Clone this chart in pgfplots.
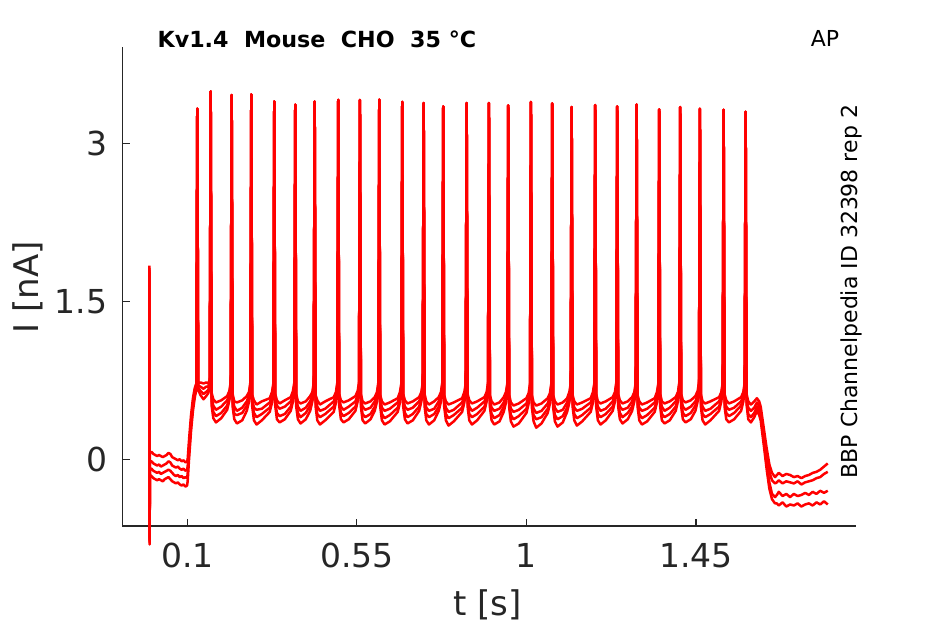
\documentclass[border=0pt]{standalone}
\usepackage{fontspec}
\setmainfont{DejaVu Sans}
\usepackage{pgfplots}
\usepackage{pgfplotstable}
\pgfplotsset{compat=1.18}
\definecolor{axgray}{HTML}{262626}

\pgfplotstableread{
t a b c d
-0.0006 1.84 1.82 1.80 1.78
0.0000 -0.81 -0.79 -0.77 -0.75
0.0008 0.06 -0.02 -0.09 -0.15
0.005 0.07 -0.02 -0.09 -0.16
0.010 0.05 -0.04 -0.11 -0.18
0.015 0.04 -0.05 -0.12 -0.19
0.020 0.03 -0.06 -0.13 -0.20
0.025 0.04 -0.05 -0.12 -0.19
0.030 0.03 -0.07 -0.14 -0.20
0.035 0.02 -0.06 -0.13 -0.21
0.040 0.03 -0.05 -0.12 -0.19
0.045 0.04 -0.04 -0.11 -0.18
0.050 0.06 -0.02 -0.10 -0.17
0.055 0.05 -0.03 -0.11 -0.19
0.060 0.02 -0.06 -0.13 -0.21
0.065 0.01 -0.07 -0.15 -0.22
0.070 0.00 -0.08 -0.16 -0.23
0.075 -0.01 -0.07 -0.15 -0.22
0.080 0.00 -0.09 -0.17 -0.24
0.085 -0.02 -0.10 -0.16 -0.25
0.090 -0.01 -0.09 -0.18 -0.24
0.095 -0.03 -0.11 -0.17 -0.26
0.0995 -0.02 -0.10 -0.18 -0.25
0.101 0.00 -0.07 -0.14 -0.21
0.105 0.20 0.14 0.08 0.02
0.110 0.42 0.37 0.32 0.27
0.115 0.58 0.54 0.50 0.46
0.120 0.68 0.65 0.62 0.59
0.124 0.72 0.70 0.68 0.66
0.1265 3.333 3.333 3.333 3.333
0.1290 0.72 0.70 0.68 0.66
0.1350 0.73 0.69 0.65 0.61
0.1430 0.72 0.67 0.62 0.57
0.1500 0.73 0.69 0.64 0.60
0.1560 0.72 0.69 0.66 0.63
0.1596 0.76 0.74 0.72 0.70
0.1621 3.498 3.498 3.498 3.498
0.1646 .63 .59 .55 .51
0.1691 .57 .51 .45 .39
0.1761 .54 .47 .41 .35
0.1901 .56 .50 .44 .39
0.2058 .60 .56 .51 .47
0.2118 .65 .62 .59 .56
0.2153 .74 .72 .70 .68
0.2178 3.463 3.463 3.463 3.463
0.2203 .62 .58 .54 .50
0.2248 .55 .50 .43 .38
0.2318 .54 .46 .42 .34
0.2458 .56 .49 .44 .37
0.2579 .60 .55 .51 .46
0.2639 .64 .61 .58 .55
0.2674 .73 .71 .69 .67
0.2699 3.469 3.469 3.469 3.469
0.2724 .61 .57 .53 .50
0.2769 .56 .49 .44 .37
0.2839 .52 .47 .40 .33
0.2979 .55 .48 .43 .37
0.3189 .58 .54 .49 .45
0.3249 .64 .60 .57 .54
0.3284 .72 .70 .68 .66
0.3309 3.402 3.402 3.402 3.402
0.3334 .62 .58 .54 .51
0.3379 .56 .51 .44 .38
0.3449 .53 .48 .41 .35
0.3589 .56 .50 .43 .38
0.3746 .59 .55 .50 .46
0.3806 .65 .61 .58 .55
0.3841 .73 .71 .69 .67
0.3866 3.371 3.371 3.371 3.371
0.3891 .62 .58 .54 .50
0.3936 .55 .50 .44 .38
0.4006 .53 .46 .40 .34
0.4146 .55 .49 .44 .38
0.4261 .60 .55 .51 .46
0.4321 .64 .61 .58 .55
0.4356 .73 .71 .69 .67
0.4381 3.402 3.402 3.402 3.402
0.4406 .61 .57 .54 .50
0.4451 .56 .50 .43 .37
0.4521 .52 .46 .40 .33
0.4661 .55 .48 .43 .37
0.4887 .59 .55 .50 .45
0.4947 .64 .61 .58 .54
0.4982 .73 .71 .69 .67
0.5007 3.416 3.416 3.416 3.416
0.5032 .62 .58 .54 .51
0.5077 .56 .50 .44 .38
0.5147 .54 .47 .41 .35
0.5287 .56 .50 .44 .38
0.5463 .60 .55 .50 .46
0.5523 .65 .61 .58 .55
0.5558 .73 .71 .69 .67
0.5583 3.416 3.416 3.416 3.416
0.5608 .62 .58 .54 .50
0.5653 .55 .50 .43 .37
0.5723 .53 .47 .40 .34
0.5863 .55 .49 .43 .38
0.5976 .59 .55 .50 .46
0.6036 .64 .61 .58 .55
0.6071 .73 .71 .69 .67
0.6096 3.419 3.419 3.419 3.419
0.6121 .61 .57 .53 .50
0.6166 .55 .49 .43 .37
0.6236 .52 .46 .39 .33
0.6376 .54 .48 .42 .36
0.6586 .58 .54 .49 .45
0.6646 .64 .60 .57 .54
0.6681 .72 .70 .68 .66
0.6706 3.397 3.397 3.397 3.397
0.6731 .62 .58 .54 .50
0.6776 .56 .50 .44 .38
0.6846 .53 .47 .40 .34
0.6986 .55 .49 .43 .37
0.7154 .59 .55 .50 .46
0.7214 .64 .61 .58 .55
0.7249 .73 .71 .69 .67
0.7274 3.387 3.387 3.387 3.387
0.7299 .62 .58 .54 .50
0.7344 .55 .49 .43 .37
0.7414 .52 .46 .40 .33
0.7554 .55 .48 .43 .37
0.7674 .59 .55 .50 .46
0.7734 .64 .61 .58 .55
0.7769 .73 .71 .69 .67
0.7794 3.355 3.355 3.355 3.355
0.7819 .61 .57 .53 .50
0.7864 .55 .49 .43 .37
0.7934 .52 .45 .39 .32
0.8074 .54 .47 .42 .36
0.8295 .58 .54 .49 .45
0.8355 .64 .60 .57 .54
0.8390 .72 .70 .68 .66
0.8415 3.387 3.387 3.387 3.387
0.8440 .62 .58 .54 .50
0.8485 .56 .50 .43 .37
0.8555 .53 .46 .40 .33
0.8695 .55 .49 .43 .37
0.8887 .59 .55 .50 .46
0.8947 .64 .61 .58 .55
0.8982 .73 .71 .69 .67
0.9007 3.387 3.387 3.387 3.387
0.9032 .61 .57 .53 .50
0.9077 .55 .49 .43 .37
0.9147 .52 .46 .39 .33
0.9287 .54 .48 .42 .36
0.9399 .59 .54 .50 .45
0.9459 .64 .60 .57 .54
0.9494 .72 .70 .68 .66
0.9519 3.364 3.364 3.364 3.364
0.9544 .61 .57 .53 .49
0.9589 .54 .48 .42 .36
0.9659 .51 .45 .38 .31
0.9799 .53 .47 .41 .34
1.0002 .58 .53 .48 .44
1.0062 .63 .60 .57 .53
1.0097 .72 .70 .68 .66
1.0122 3.397 3.397 3.397 3.397
1.0147 .61 .57 .53 .49
1.0192 .54 .48 .42 .36
1.0262 .51 .44 .38 .30
1.0402 .53 .46 .40 .34
1.0567 .58 .53 .48 .44
1.0627 .63 .60 .56 .53
1.0662 .72 .70 .68 .66
1.0687 3.383 3.383 3.383 3.383
1.0712 .61 .57 .53 .49
1.0757 .55 .49 .42 .36
1.0827 .52 .45 .38 .31
1.0967 .54 .47 .41 .35
1.1082 .58 .54 .49 .45
1.1142 .64 .60 .57 .54
1.1177 .72 .70 .68 .66
1.1202 3.349 3.349 3.349 3.349
1.1227 .61 .57 .53 .50
1.1272 .55 .49 .43 .37
1.1342 .52 .46 .39 .32
1.1482 .54 .48 .42 .36
1.1708 .58 .54 .49 .45
1.1768 .64 .60 .57 .54
1.1803 .72 .70 .68 .66
1.1828 3.368 3.368 3.368 3.368
1.1853 .62 .58 .54 .50
1.1898 .55 .50 .43 .37
1.1968 .53 .46 .40 .33
1.2108 .55 .48 .43 .37
1.2292 .59 .55 .50 .46
1.2352 .64 .61 .58 .55
1.2387 .73 .71 .69 .67
1.2412 3.355 3.355 3.355 3.355
1.2437 .62 .58 .54 .50
1.2482 .56 .50 .44 .38
1.2552 .53 .47 .40 .34
1.2692 .55 .49 .44 .38
1.2807 .59 .55 .50 .46
1.2867 .64 .61 .58 .55
1.2902 .73 .71 .69 .67
1.2927 3.374 3.374 3.374 3.374
1.2952 .61 .57 .53 .50
1.2997 .55 .49 .43 .37
1.3067 .52 .46 .39 .33
1.3207 .54 .48 .42 .36
1.3407 .58 .54 .49 .45
1.3467 .64 .60 .57 .54
1.3502 .72 .70 .68 .66
1.3527 3.326 3.326 3.326 3.326
1.3552 .62 .58 .54 .50
1.3597 .55 .50 .43 .37
1.3667 .53 .46 .40 .34
1.3807 .55 .49 .43 .37
1.3964 .59 .55 .50 .46
1.4024 .64 .61 .58 .55
1.4059 .73 .71 .69 .67
1.4084 3.349 3.349 3.349 3.349
1.4109 .62 .58 .54 .50
1.4154 .56 .50 .44 .38
1.4224 .54 .47 .41 .35
1.4364 .56 .50 .44 .38
1.4487 .60 .55 .51 .46
1.4547 .65 .61 .58 .55
1.4582 .73 .71 .69 .67
1.4607 3.333 3.333 3.333 3.333
1.4632 .62 .58 .54 .50
1.4677 .55 .50 .43 .37
1.4747 .53 .46 .40 .33
1.4887 .55 .48 .43 .37
1.5116 .59 .55 .50 .46
1.5176 .64 .61 .58 .55
1.5211 .73 .71 .69 .67
1.5236 3.323 3.323 3.323 3.323
1.5261 .62 .58 .54 .50
1.5306 .56 .50 .44 .38
1.5376 .53 .47 .41 .35
1.5516 .55 .49 .44 .38
1.5700 .59 .55 .51 .46
1.5760 .64 .61 .58 .55
1.5795 .73 .71 .69 .67
1.5820 3.304 3.304 3.304 3.304
1.5845 .62 .58 .55 .52
1.5890 .55 .49 .43 .38
1.5960 .52 .46 .40 .35
1.6050 .55 .49 .44 .40
1.6120 .58 .54 .50 .46
1.6180 .55 .50 .46 .42
1.6220 .50 .45 .41 .37
1.6300 .30 .24 .18 .14
1.6380 .10 .03 -.05 -.10
1.6450 -.05 -.12 -.22 -.28
1.6520 -.13 -.20 -.33 -.38
1.6600 -.17 -.23 -.36 -.42
1.665 -0.15 -0.22 -0.34 -0.42
1.670 -0.13 -0.20 -0.31 -0.44
1.680 -0.16 -0.23 -0.35 -0.41
1.690 -0.14 -0.21 -0.33 -0.45
1.700 -0.15 -0.22 -0.36 -0.43
1.710 -0.17 -0.23 -0.33 -0.44
1.720 -0.16 -0.21 -0.35 -0.42
1.730 -0.18 -0.24 -0.34 -0.45
1.740 -0.16 -0.22 -0.32 -0.43
1.750 -0.15 -0.21 -0.34 -0.42
1.760 -0.13 -0.20 -0.31 -0.44
1.770 -0.12 -0.18 -0.33 -0.41
1.780 -0.10 -0.17 -0.30 -0.43
1.790 -0.07 -0.14 -0.32 -0.40
1.800 -0.04 -0.12 -0.30 -0.43
}\traces

\begin{document}
\begin{tikzpicture}
\path[use as bounding box] (0,0) rectangle (472.5pt,312pt);
\begin{axis}[
  at={(61.15pt,49pt)}, anchor=south west,
  scale only axis, width=366.85pt, height=239.5pt,
  xmin=-0.0725, xmax=1.875, ymin=-0.635, ymax=3.92,
  axis x line*=bottom, axis y line*=left,
  axis line style={axgray, line width=0.65pt, -},
  xtick={0.1,0.55,1,1.45}, xticklabels={0.1,0.55,1,1.45},
  ytick={0,1.5,3}, yticklabels={0,1.5,3},
  tick align=inside, major tick length=3.7pt,
  tick style={axgray, line width=0.6pt},
  ticklabel style={font=\fontsize{16.5}{18}\selectfont, text=axgray},
  xticklabel style={yshift=-5pt},
  yticklabel style={xshift=-4pt},
  clip=false,
]
\addplot[red, line width=1.25pt, line join=round] table[x=t,y=d]{\traces};
\addplot[red, line width=1.25pt, line join=round] table[x=t,y=c]{\traces};
\addplot[red, line width=1.25pt, line join=round] table[x=t,y=b]{\traces};
\addplot[red, line width=1.25pt, line join=round] table[x=t,y=a]{\traces};
\end{axis}
\node[font=\fontsize{11.1}{13}\selectfont\bfseries, anchor=base west, inner sep=0pt] at (78.6pt,288.4pt) {Kv1.4\ \ Mouse\ \ CHO\ \ 35 °C};
\node[font=\fontsize{11}{13}\selectfont, anchor=base, inner sep=0pt] at (412.5pt,288.6pt) {AP};
\node[font=\fontsize{11}{13}\selectfont, rotate=90, anchor=base, inner sep=0pt] at (428.8pt,166.2pt) {BBP Channelpedia ID 32398 rep 2};
\node[font=\fontsize{17}{20}\selectfont, text=axgray, inner sep=0pt] at (243.6pt,9.5pt) {t [s]};
\node[font=\fontsize{17}{20}\selectfont, text=axgray, rotate=90, inner sep=0pt] at (13.75pt,168.25pt) {I [nA]};
\end{tikzpicture}
\end{document}
